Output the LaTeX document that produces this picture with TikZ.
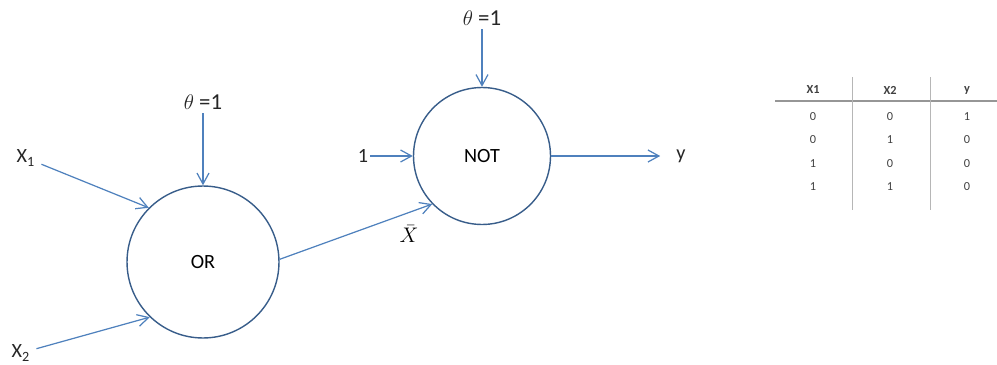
\documentclass[tikz,border=0pt]{standalone}
\usepackage{fontspec}
\setmainfont{Carlito}
\usepackage{amsmath}
\usepackage{tikz}
\usetikzlibrary{positioning,arrows.meta}

\definecolor{linkblue}{RGB}{79,129,189}
\definecolor{gateblue}{RGB}{56,93,138}
\definecolor{rulegray}{RGB}{150,150,150}

\begin{document}
\begin{tikzpicture}[
    x=0.02cm, y=-0.02cm,
    gate/.style={draw=gateblue, circle, thick, fill=white, font=\fontsize{11.5}{13}\selectfont},
    inlabel/.style={font=\fontsize{11.5}{13}\selectfont, text=black!85},
    thetalabel/.style={font=\fontsize{13}{15}\selectfont, text=black!85, inner sep=2pt},
    cell/.style={font=\fontsize{7}{8}\selectfont, text=black!75},
    arrow/.style={-{Straight Barb[length=2.2mm,width=2.4mm]}, draw=linkblue, line width=0.7pt}
  ]
    \useasboundingbox (0,0) rectangle (997,365);

    % gates
    \node[gate, minimum size=3.04cm] (orgate) at (203,262) {OR};
    \node[gate, minimum size=2.74cm] (notgate) at (482,156) {NOT};

    % inputs and thresholds
    \node[inlabel] (xone) at (26,158) {X\textsubscript{1}};
    \node[inlabel] (xtwo) at (21,353) {X\textsubscript{2}};
    \node[thetalabel] (thetaor) at (203,102) {$\theta$ =1};
    \node[thetalabel] (thetanot) at (482,18) {$\theta$ =1};
    \node[inlabel, inner sep=1pt] (one) at (363,156) {1};
    \node[inlabel] (yout) at (681,156) {y};
    \node[font=\fontsize{13}{15}\selectfont, inner sep=0pt] (xbar) at (409,234) {$\bar{X}$};

    \draw[arrow] (xone) -- (orgate.135);
    \draw[arrow] (xtwo) -- (orgate.226);
    \draw[arrow] (thetaor) -- (orgate.north);
    \draw[arrow] (orgate.2) -- (notgate.224);
    \draw[arrow] (thetanot) -- (notgate.north);
    \draw[arrow] (one) -- (notgate.west);
    \draw[arrow, shorten >=0.2cm] (notgate.east) -- (yout);

    % truth table
    \draw[rulegray, thick] (775,101) -- (997,101);
    \draw[rulegray!70] (852,77) -- (852,210);
    \draw[rulegray!70] (930,77) -- (930,210);
    \node[cell, font=\fontsize{7}{8}\selectfont\bfseries] (hxone) at (813,90) {X1};
    \node[cell, font=\fontsize{7}{8}\selectfont\bfseries] (hxtwo) at (890,90) {X2};
    \node[cell, font=\fontsize{7}{8}\selectfont\bfseries] (hy) at (967,90) {y};
    \foreach \a/\b/\c [count=\r] in {0/0/1, 0/1/0, 1/0/0, 1/1/0} {
      \node[cell] (ra\r) at (813,93+23.5*\r) {\a};
      \node[cell] (rb\r) at (890,93+23.5*\r) {\b};
      \node[cell] (rc\r) at (967,93+23.5*\r) {\c};
    }
\end{tikzpicture}
\end{document}
